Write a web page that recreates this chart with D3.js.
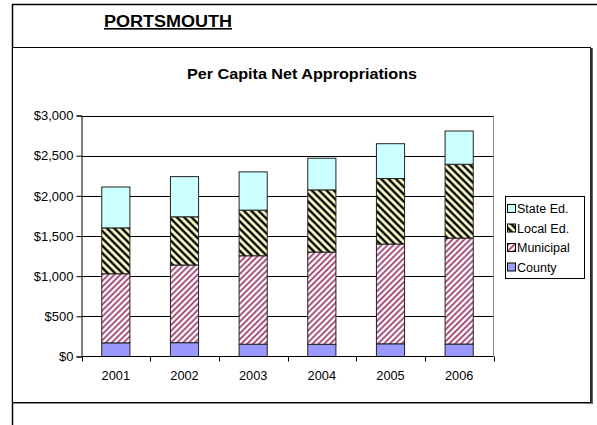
<!DOCTYPE html>
<html>
<head>
<meta charset="utf-8">
<script src="https://cdn.jsdelivr.net/npm/d3@7"></script>
<style>
  body { margin: 0; background: #fff; }
  svg { display: block; font-family: Arial, "Liberation Sans", sans-serif; }
</style>
</head>
<body>
<svg id="chart" width="597" height="425"></svg>
<script>
// data
var years = ["2001", "2002", "2003", "2004", "2005", "2006"];
var county = [170, 172, 153, 152, 158, 155];
var municipal = [860, 967, 1101, 1148, 1242, 1319];
var localEd = [571, 600, 568, 774, 815, 919];
var stateEd = [509, 500, 476, 394, 434, 414];
var yTicks = [0, 500, 1000, 1500, 2000, 2500, 3000];
var seriesNames = ["County", "Municipal", "Local Ed.", "State Ed."];

var svg = d3.select("#chart");
var defs = svg.append("defs");

// hatch patterns
function hatch(id, bg, fg, size, sw, angle) {
  var p = defs.append("pattern")
    .attr("id", id)
    .attr("patternUnits", "userSpaceOnUse")
    .attr("width", size)
    .attr("height", size)
    .attr("patternTransform", "rotate(" + angle + ")");
  p.append("rect").attr("width", size).attr("height", size).attr("fill", bg);
  p.append("line")
    .attr("x1", size / 2).attr("y1", 0)
    .attr("x2", size / 2).attr("y2", size)
    .attr("stroke", fg).attr("stroke-width", sw);
}
hatch("muni", "#ffffff", "#993366", 4.2, 1.7, 45);
hatch("local", "#ffffcc", "#000000", 5.2, 2.4, -45);

var fills = {
  "County": "#9999ff",
  "Municipal": "url(#muni)",
  "Local Ed.": "url(#local)",
  "State Ed.": "#ccffff"
};

// outer frame
svg.append("line").attr("x1", 12.5).attr("y1", 4).attr("x2", 12.5).attr("y2", 425)
  .attr("stroke", "#000").attr("stroke-width", 1.5);
svg.append("line").attr("x1", 12).attr("y1", 4.5).attr("x2", 597).attr("y2", 4.5)
  .attr("stroke", "#000").attr("stroke-width", 1.5);

svg.append("text")
  .attr("x", 104).attr("y", 27)
  .attr("font-size", 16).attr("font-weight", "bold")
  .attr("text-decoration", "underline")
  .attr("textLength", 128).attr("lengthAdjust", "spacingAndGlyphs")
  .text("PORTSMOUTH");

// chart box
svg.append("rect")
  .attr("x", 12.5).attr("y", 47.5).attr("width", 578).attr("height", 355)
  .attr("fill", "#fff").attr("stroke", "#000").attr("stroke-width", 1);
svg.append("line").attr("x1", 591.5).attr("y1", 48).attr("x2", 591.5).attr("y2", 404)
  .attr("stroke", "#333").attr("stroke-width", 2.5);
svg.append("line").attr("x1", 13).attr("y1", 403.5).attr("x2", 592).attr("y2", 403.5)
  .attr("stroke", "#888").attr("stroke-width", 1);

svg.append("text")
  .attr("x", 187).attr("y", 79)
  .attr("font-size", 15.5).attr("font-weight", "bold")
  .attr("textLength", 230).attr("lengthAdjust", "spacingAndGlyphs")
  .text("Per Capita Net Appropriations");

var plotLeft = 81.5, plotRight = 493.5, plotTop = 115.5, plotBottom = 356.5;

var x = d3.scaleBand().domain(years).range([plotLeft, plotRight])
  .paddingInner(0.59).paddingOuter(0.295);
var y = d3.scaleLinear().domain([0, 3000]).range([plotBottom, plotTop]);

// gridlines
svg.append("g").selectAll("line").data(yTicks.slice(1)).join("line")
  .attr("x1", plotLeft).attr("x2", plotRight)
  .attr("y1", function (d) { return Math.round(y(d)) + 0.5; })
  .attr("y2", function (d) { return Math.round(y(d)) + 0.5; })
  .attr("stroke", "#000").attr("stroke-width", 1);

// plot area right border
svg.append("line").attr("x1", plotRight).attr("x2", plotRight).attr("y1", plotTop).attr("y2", plotBottom)
  .attr("stroke", "#888");

// stacked bars
var rows = years.map(function (yr, i) {
  return { year: yr, "County": county[i], "Municipal": municipal[i], "Local Ed.": localEd[i], "State Ed.": stateEd[i] };
});
var stack = d3.stack().keys(seriesNames)(rows);

svg.append("g").selectAll("g").data(stack).join("g")
  .attr("fill", function (d) { return fills[d.key]; })
  .selectAll("rect").data(function (d) { return d; }).join("rect")
  .attr("x", function (d) { return x(d.data.year); })
  .attr("width", x.bandwidth())
  .attr("y", function (d) { return y(d[1]); })
  .attr("height", function (d) { return y(d[0]) - y(d[1]); })
  .attr("stroke", "#222").attr("stroke-width", 1);

// axes
var yAxis = svg.append("g")
  .attr("transform", "translate(" + plotLeft + ",0)")
  .call(d3.axisLeft(y).tickValues(yTicks).tickSize(5).tickPadding(3)
    .tickFormat(function (d) { return "$" + d3.format(",")(d); }));
yAxis.select(".domain").attr("stroke", "#000");
yAxis.selectAll("text").attr("font-size", 13).attr("font-family", "Arial, 'Liberation Sans', sans-serif").attr("fill", "#000");

var xAxis = svg.append("g")
  .attr("transform", "translate(0," + plotBottom + ")")
  .call(d3.axisBottom(x).tickSize(0).tickPadding(14));
xAxis.select(".domain").remove();
xAxis.selectAll("text").attr("font-size", 12.8).attr("font-family", "Arial, 'Liberation Sans', sans-serif").attr("fill", "#000");
svg.append("line").attr("x1", plotLeft).attr("x2", plotRight).attr("y1", plotBottom).attr("y2", plotBottom)
  .attr("stroke", "#000");
var bounds = years.map(function (yr) { return x(yr) - x.step() * x.paddingInner() / 2; });
bounds.push(plotRight);
svg.append("g").selectAll("line").data(bounds).join("line")
  .attr("x1", function (d) { return Math.round(d) + 0.5; })
  .attr("x2", function (d) { return Math.round(d) + 0.5; })
  .attr("y1", plotBottom).attr("y2", plotBottom + 5)
  .attr("stroke", "#000");

// legend
var lx = 505, ly = 196;
svg.append("rect").attr("x", lx + 0.5).attr("y", ly + 0.5).attr("width", 79).attr("height", 82)
  .attr("fill", "#fff").attr("stroke", "#000");
var legendItems = seriesNames.slice().reverse();
var lg = svg.append("g").selectAll("g").data(legendItems).join("g")
  .attr("transform", function (d, i) { return "translate(" + (lx + 2) + "," + (ly + 8 + i * 19.5) + ")"; });
lg.append("rect").attr("x", 0.5).attr("y", 0.5).attr("width", 8).attr("height", 8)
  .attr("fill", function (d) { return fills[d]; })
  .attr("stroke", "#000");
lg.append("text").attr("x", 10).attr("y", 9)
  .attr("font-size", 12.5)
  .text(function (d) { return d; });
</script>
</body>
</html>
